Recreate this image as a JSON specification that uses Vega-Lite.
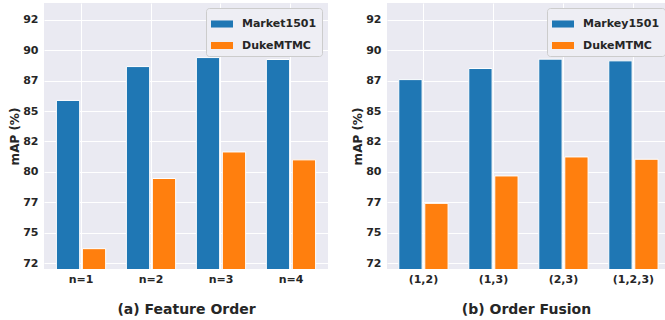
{
  "$schema": "https://vega.github.io/schema/vega-lite/v6.json",
  "background": "white",
  "padding": {"left": 8, "top": 3, "right": 0, "bottom": 0},
  "config": {
    "font": "DejaVu Sans",
    "view": {"fill": "#EAEAF2", "stroke": null},
    "axis": {
      "domain": false,
      "ticks": false,
      "gridColor": "white",
      "gridWidth": 1,
      "gridOpacity": 1,
      "labelFont": "DejaVu Sans",
      "labelFontWeight": "bold",
      "labelFontSize": 11,
      "labelColor": "#262626",
      "titleFont": "DejaVu Sans",
      "titleColor": "#262626",
      "titleFontWeight": "bold"
    },
    "legend": {
      "symbolType": "M-1,-0.32H1V0.32H-1Z",
      "symbolSize": 484,
      "symbolStrokeWidth": 0,
      "symbolOpacity": 1,
      "labelFont": "DejaVu Sans",
      "labelFontSize": 11,
      "labelFontWeight": "bold",
      "labelColor": "#262626",
      "labelOffset": 9,
      "padding": 5,
      "rowPadding": 5.5,
      "strokeColor": "#cccccc",
      "fillColor": "#EEEEF4",
      "cornerRadius": 3
    },
    "concat": {"spacing": 23}
  },
  "datasets": {
    "a": [
      {"order": "n=1", "dataset": "Market1501", "mAP": 85.87},
      {"order": "n=1", "dataset": "DukeMTMC", "mAP": 73.7},
      {"order": "n=2", "dataset": "Market1501", "mAP": 88.65},
      {"order": "n=2", "dataset": "DukeMTMC", "mAP": 79.46},
      {"order": "n=3", "dataset": "Market1501", "mAP": 89.39},
      {"order": "n=3", "dataset": "DukeMTMC", "mAP": 81.64},
      {"order": "n=4", "dataset": "Market1501", "mAP": 89.23},
      {"order": "n=4", "dataset": "DukeMTMC", "mAP": 80.99}
    ],
    "b": [
      {"order": "(1,2)", "dataset": "Markey1501", "mAP": 87.58},
      {"order": "(1,2)", "dataset": "DukeMTMC", "mAP": 77.42},
      {"order": "(1,3)", "dataset": "Markey1501", "mAP": 88.49},
      {"order": "(1,3)", "dataset": "DukeMTMC", "mAP": 79.67},
      {"order": "(2,3)", "dataset": "Markey1501", "mAP": 89.26},
      {"order": "(2,3)", "dataset": "DukeMTMC", "mAP": 81.23},
      {"order": "(1,2,3)", "dataset": "Markey1501", "mAP": 89.12},
      {"order": "(1,2,3)", "dataset": "DukeMTMC", "mAP": 81.04}
    ]
  },
  "hconcat": [
    {
      "width": 284,
      "height": 266,
      "data": {"name": "a"},
      "mark": {"type": "bar", "stroke": "white", "strokeWidth": 1, "clip": true},
      "encoding": {
        "x": {
          "field": "order", "type": "nominal", "sort": null,
          "scale": {"paddingInner": 0.296, "paddingOuter": 0.177},
          "axis": {"title": "(a) Feature Order", "labelAngle": 0, "labelPadding": 4, "titlePadding": 18, "titleFontSize": 14, "grid": true, "bandPosition": 0.5}
        },
        "xOffset": {
          "field": "dataset", "type": "nominal", "sort": null,
          "scale": {"paddingInner": 0.104, "paddingOuter": 0}
        },
        "y": {
          "field": "mAP", "type": "quantitative",
          "scale": {"domain": [72.03, 93.87], "zero": false, "nice": false},
          "axis": {"title": "mAP (%)", "values": [72.5, 75, 77.5, 80, 82.5, 85, 87.5, 90, 92.5], "labelExpr": "floor(datum.value)", "labelPadding": 6, "titlePadding": 1, "titleFontSize": 12, "grid": true}
        },
        "color": {
          "field": "dataset", "type": "nominal", "sort": null,
          "scale": {"range": ["#1f77b4", "#ff7f0e"]},
          "legend": {"title": null, "orient": "none", "legendX": 162, "legendY": 5}
        }
      }
    },
    {
      "width": 278,
      "height": 266,
      "data": {"name": "b"},
      "mark": {"type": "bar", "stroke": "white", "strokeWidth": 1, "clip": true},
      "encoding": {
        "x": {
          "field": "order", "type": "nominal", "sort": null,
          "scale": {"paddingInner": 0.296, "paddingOuter": 0.1337, "align": 0.63},
          "axis": {"title": "(b) Order Fusion", "labelAngle": 0, "labelPadding": 4, "titlePadding": 18, "titleFontSize": 14, "grid": true, "bandPosition": 0.5}
        },
        "xOffset": {
          "field": "dataset", "type": "nominal", "sort": null,
          "scale": {"paddingInner": 0.104, "paddingOuter": 0}
        },
        "y": {
          "field": "mAP", "type": "quantitative",
          "scale": {"domain": [72.03, 93.87], "zero": false, "nice": false},
          "axis": {"title": "mAP (%)", "values": [72.5, 75, 77.5, 80, 82.5, 85, 87.5, 90, 92.5], "labelExpr": "floor(datum.value)", "labelPadding": 6, "titlePadding": 1, "titleFontSize": 12, "grid": true}
        },
        "color": {
          "field": "dataset", "type": "nominal", "sort": null,
          "scale": {"range": ["#1f77b4", "#ff7f0e"]},
          "legend": {"title": null, "orient": "none", "legendX": 160, "legendY": 5}
        }
      }
    }
  ],
  "resolve": {
    "scale": {"color": "independent", "x": "independent", "xOffset": "independent", "y": "independent"},
    "legend": {"color": "independent"}
  }
}
